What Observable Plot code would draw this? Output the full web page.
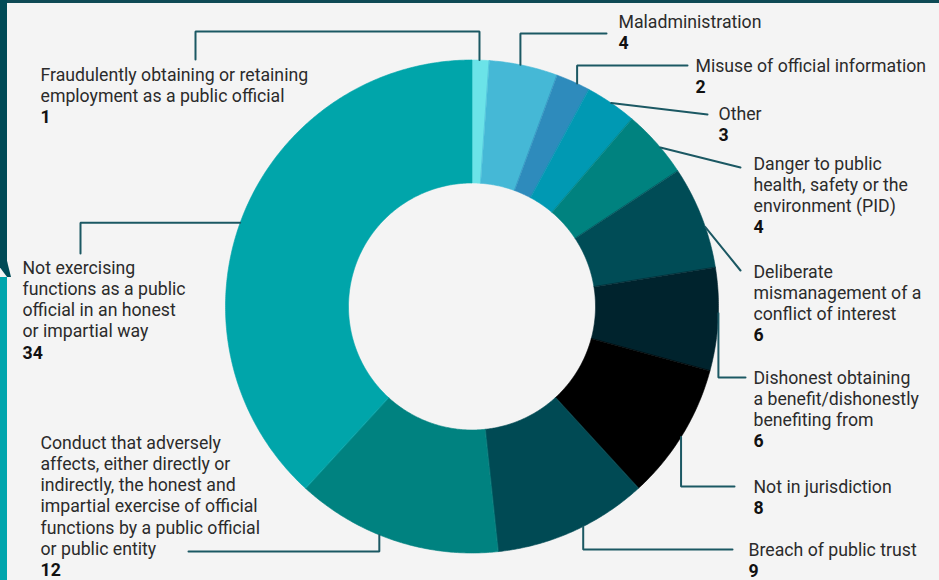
<!DOCTYPE html>
<html><head><meta charset="utf-8">
<script src="https://cdn.jsdelivr.net/npm/d3@7"></script>
<script src="https://cdn.jsdelivr.net/npm/@observablehq/plot@0.6"></script>
<style>
html,body{margin:0;padding:0;background:#f4f4f4;}
#wrap{position:relative;width:939px;height:580px;overflow:hidden;background:#f4f4f4;}
#wrap svg{position:absolute;left:0;top:0;}
.topbar{position:absolute;left:0;top:0;width:939px;height:3px;background:#0e4a55;z-index:2;}
.leftdark{position:absolute;left:0;top:0;width:7px;height:262px;background:#004a56;z-index:2;}
.lefttri{position:absolute;left:0;top:261px;width:11px;height:16px;background:#004a56;clip-path:polygon(0 0,64% 0,100% 100%,64% 100%,0 40%);z-index:2;}
.leftteal{position:absolute;left:0;top:277px;width:7px;height:303px;background:#00a5ad;z-index:2;}
</style></head>
<body><div id="wrap"><div class="topbar"></div><div class="leftdark"></div><div class="lefttri"></div><div class="leftteal"></div><div id="chart"></div></div>
<script>
// ---- data ----
const categories = [
  "Fraudulently obtaining or retaining employment as a public official",
  "Maladministration",
  "Misuse of official information",
  "Other",
  "Danger to public health, safety or the environment (PID)",
  "Deliberate mismanagement of a conflict of interest",
  "Dishonest obtaining a benefit/dishonestly benefiting from",
  "Not in jurisdiction",
  "Breach of public trust",
  "Conduct that adversely affects, either directly or indirectly, the honest and impartial exercise of official functions by a public official or public entity",
  "Not exercising functions as a public official in an honest or impartial way"
];
const values = [1, 4, 2, 3, 4, 6, 6, 8, 9, 12, 34];
const labelLines = [
  ["Fraudulently obtaining or retaining", "employment as a public official"],
  ["Maladministration"],
  ["Misuse of official information"],
  ["Other"],
  ["Danger to public", "health, safety or the", "environment (PID)"],
  ["Deliberate", "mismanagement of a", "conflict of interest"],
  ["Dishonest obtaining", "a benefit/dishonestly", "benefiting from"],
  ["Not in jurisdiction"],
  ["Breach of public trust"],
  ["Conduct that adversely", "affects, either directly or", "indirectly, the honest and", "impartial exercise of official", "functions by a public official", "or public entity"],
  ["Not exercising", "functions as a public", "official in an honest", "or impartial way"]
];
// ---- styles ----
const colors = ["#6be3e8", "#45b8d6", "#2e8bbc", "#0099b3", "#00827f", "#004c56", "#00232d", "#000000", "#004a54", "#008280", "#00a5aa"];
// ---- layout ----
const W = 939, H = 580, CX = 471.5, CY = 306, R = 246.5, RI = 123.5;
const labelPos = [[40, 80], [618, 27], [695, 71], [718, 119], [753, 169], [753, 277], [753, 383], [753, 492], [748, 555], [40, 448], [22, 273]];
const leaderFrac = [0.43, 0.45, 0.62, 0.5, 0.58, 0.6, 0.44, 0.52, 0.43, 0.58, 0.49];
const leaderRoute = [
  [["sx", 31], [195, 31], [195, 59]],
  [["sx", 33], [606, 33]],
  [["sx", 65], [687, 65]],
  [[707, 114]],
  [[740, 167]],
  [[740, 270]],
  [["sx", 377], [745, 377]],
  [["sx", 486], [734, 486]],
  [["sx", 549], [732, 549]],
  [["sx", 551], [188, 551]],
  [[80, "sy"], [80, 253]]
];
const LH = 21.3;

// font size fit
const FONT = "Roboto";
const cv = document.createElement("canvas").getContext("2d");
cv.font = `17px ${FONT}`;
const fs = +(17 * 268 / cv.measureText("Fraudulently obtaining or retaining").width).toFixed(2);

// ---- geometry ----
const total = d3.sum(values);
const cum = d3.cumsum(values);
const ang = v => v / total * 2 * Math.PI;
const pt = (a, r) => [CX + r * Math.sin(a), CY - r * Math.cos(a)];
const slicePts = [];
categories.forEach((c, i) => {
  const a0 = ang(cum[i] - values[i]), a1 = ang(cum[i]);
  const n = Math.max(4, Math.ceil((a1 - a0) / (Math.PI / 360)));
  for (let k = 0; k <= n; k++) { const [x, y] = pt(a0 + (a1 - a0) * k / n, R); slicePts.push({cat: c, x, y}); }
  for (let k = n; k >= 0; k--) { const [x, y] = pt(a0 + (a1 - a0) * k / n, RI); slicePts.push({cat: c, x, y}); }
});
const leaderPts = [];
categories.forEach((c, i) => {
  const a = ang(cum[i] - values[i] + values[i] * leaderFrac[i]);
  const [sx, sy] = pt(a, R);
  leaderPts.push({id: i, x: sx, y: sy});
  leaderRoute[i].forEach(([x, y]) => leaderPts.push({id: i, x: x === "sx" ? sx : x, y: y === "sy" ? sy : y}));
});
const textRows = [], numRows = [];
labelLines.forEach((lines, i) => {
  const [x, y0] = labelPos[i];
  lines.forEach((t, j) => textRows.push({x, y: y0 + j * LH, t}));
  numRows.push({x, y: y0 + lines.length * LH, t: String(values[i])});
});

const chart = Plot.plot({
  width: W, height: H, margin: 0,
  x: {domain: [0, W], range: [0, W], axis: null},
  y: {domain: [0, H], range: [0, H], axis: null},
  color: {domain: categories, range: colors},
  style: {background: "transparent", fontFamily: FONT},
  marks: [
    Plot.line(slicePts, {x: "x", y: "y", z: "cat", fill: "cat", stroke: "cat", strokeWidth: 0.6, curve: "linear-closed"}),
    Plot.line(leaderPts, {x: "x", y: "y", z: "id", stroke: "#1b5863", strokeWidth: 2, fill: "none", strokeLinejoin: "miter"}),
    Plot.text(textRows, {x: "x", y: "y", text: "t", textAnchor: "start", lineAnchor: "bottom", fontSize: fs, fill: "#2b2b2b"}),
    Plot.text(numRows, {x: "x", y: "y", text: "t", textAnchor: "start", lineAnchor: "bottom", fontSize: fs, fontWeight: "bold", fill: "#111"})
  ]
});
document.getElementById("chart").appendChild(chart);
</script></body></html>
